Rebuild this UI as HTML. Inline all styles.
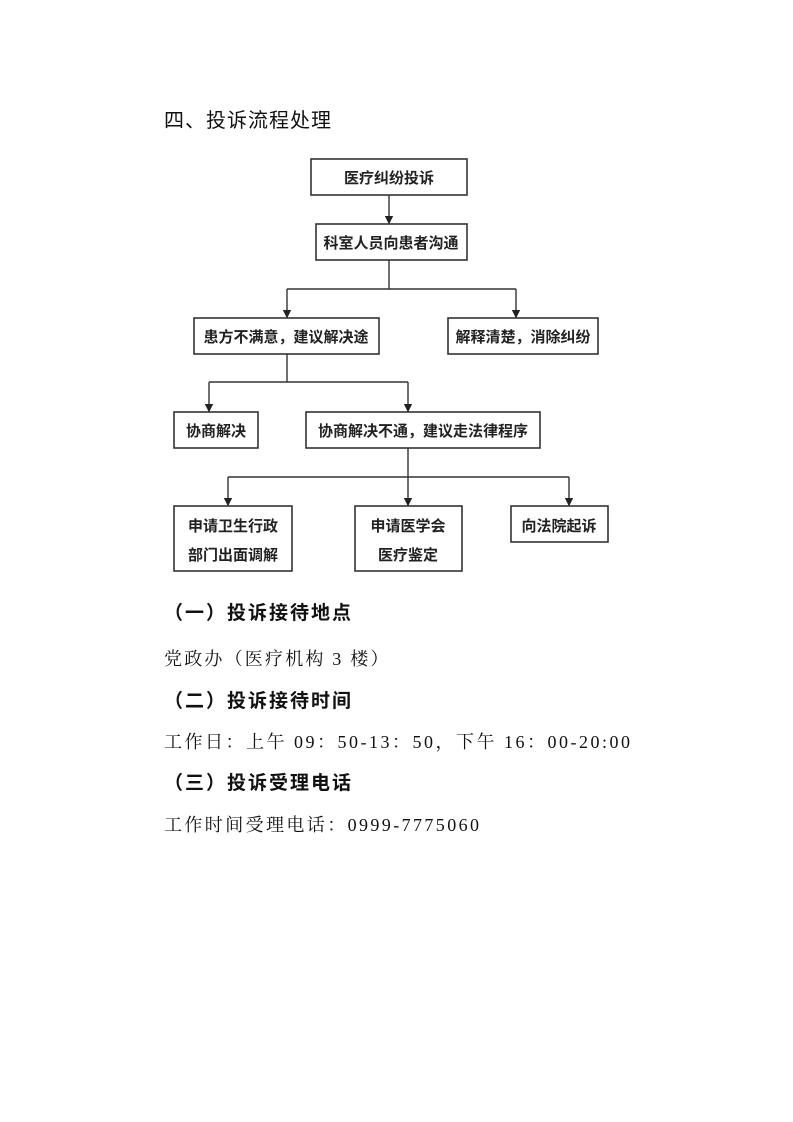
<!DOCTYPE html>
<html><head><meta charset="utf-8"><style>
body{margin:0;background:#fff;width:793px;height:1122px;position:relative;overflow:hidden}
.t{position:absolute;left:164px;white-space:nowrap;color:#111;font-family:"Liberation Serif","Noto Serif CJK SC",serif}
.h{font-family:"Liberation Sans","Noto Sans CJK SC",sans-serif;font-weight:bold;font-size:19px;letter-spacing:2px}
.b{font-size:18px;letter-spacing:2.2px}
svg{position:absolute;left:0;top:0}
svg text{font-family:"Liberation Sans","Noto Sans CJK SC",sans-serif;font-size:15px;font-weight:bold;fill:#222;text-anchor:middle}
</style></head><body>
<div class="t" style="top:104px;font-size:20px;letter-spacing:1px;font-family:'Liberation Sans','Noto Sans CJK SC',sans-serif">四、投诉流程处理</div>
<svg width="793" height="1122">
<defs><marker id="a" markerWidth="6" markerHeight="6" refX="5" refY="3" orient="auto"><path d="M0,0L6,3L0,6z" fill="#222"/></marker></defs>
<g fill="#fff" stroke="#333" stroke-width="1.6">
<rect x="311" y="159" width="156" height="36"/>
<rect x="316" y="224" width="151" height="36"/>
<rect x="194" y="318" width="185" height="36"/>
<rect x="448" y="318" width="150" height="36"/>
<rect x="174" y="412" width="84" height="36"/>
<rect x="306" y="412" width="234" height="36"/>
<rect x="174" y="506" width="118" height="65"/>
<rect x="355" y="506" width="107" height="65"/>
<rect x="511" y="506" width="97" height="36"/>
</g>
<g fill="none" stroke="#333" stroke-width="1.4">
<path d="M389 195V223" marker-end="url(#a)"/>
<path d="M389 260V289M287 289H516"/>
<path d="M287 289V317" marker-end="url(#a)"/>
<path d="M516 289V317" marker-end="url(#a)"/>
<path d="M287 354V382M209 382H408"/>
<path d="M209 382V411" marker-end="url(#a)"/>
<path d="M408 382V411" marker-end="url(#a)"/>
<path d="M408 448V477M228 477H569"/>
<path d="M228 477V505" marker-end="url(#a)"/>
<path d="M408 477V505" marker-end="url(#a)"/>
<path d="M569 477V505" marker-end="url(#a)"/>
</g>
<text x="389" y="183">医疗纠纷投诉</text>
<text x="391" y="248">科室人员向患者沟通</text>
<text x="286" y="342">患方不满意，建议解决途</text>
<text x="523" y="342">解释清楚，消除纠纷</text>
<text x="216" y="436">协商解决</text>
<text x="423" y="436">协商解决不通，建议走法律程序</text>
<text x="233" y="531">申请卫生行政</text>
<text x="233" y="560">部门出面调解</text>
<text x="408" y="531">申请医学会</text>
<text x="408" y="560">医疗鉴定</text>
<text x="559" y="531">向法院起诉</text>
</svg>
<div class="t h" style="top:598px">（一）投诉接待地点</div>
<div class="t b" style="top:645px">党政办（医疗机构 3 楼）</div>
<div class="t h" style="top:686px">（二）投诉接待时间</div>
<div class="t b" style="top:728px;letter-spacing:2.5px">工作日：上午 09：50-13：50，下午 16：00-20:00</div>
<div class="t h" style="top:768px">（三）投诉受理电话</div>
<div class="t b" style="top:811px;letter-spacing:2.4px">工作时间受理电话：0999-7775060</div>
</body></html>
